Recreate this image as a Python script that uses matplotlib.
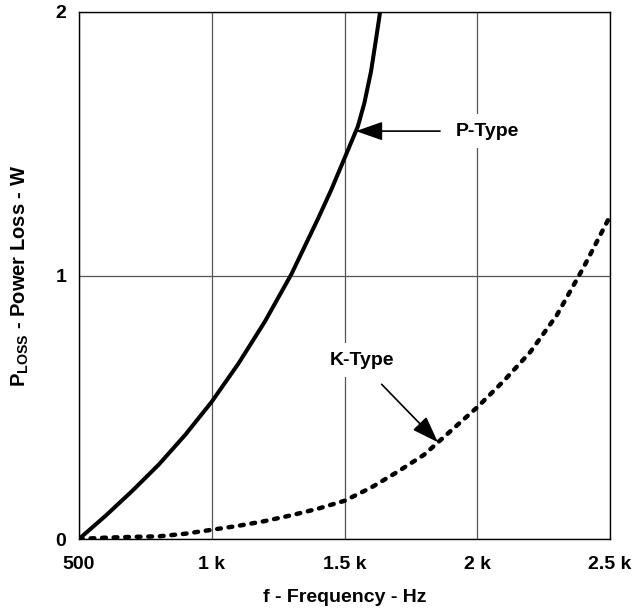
import numpy as np
import matplotlib
matplotlib.use("Agg")
import matplotlib.pyplot as plt

plt.rcParams['font.family'] = ['Liberation Sans', 'DejaVu Sans']
plt.rcParams['font.weight'] = 'bold'
plt.rcParams['mathtext.default'] = 'regular'

# values
freq_p = [500, 600, 700, 800, 900, 1000, 1100, 1200, 1300, 1400, 1450, 1500,
          1550, 1575, 1600, 1620, 1634]
loss_p = [0, 0.088, 0.182, 0.282, 0.395, 0.521, 0.665, 0.825, 1.005, 1.215, 1.325, 1.445,
          1.565, 1.655, 1.775, 1.905, 2.0]

freq_k = [500, 600, 700, 800, 900, 1000, 1100, 1200, 1300, 1400, 1500, 1600,
          1700, 1800, 1900, 2000, 2100, 2200, 2300, 2400, 2500]
loss_k = [0, 0.005, 0.008, 0.01, 0.02, 0.035, 0.05, 0.068, 0.09, 0.115, 0.145, 0.195,
          0.255, 0.32, 0.41, 0.50, 0.60, 0.71, 0.85, 1.03, 1.225]

x_ticks = [500, 1000, 1500, 2000, 2500]
x_labels = ['500', '1 k', '1.5 k', '2 k', '2.5 k']
y_ticks = [0, 1, 2]
y_labels = ['0', '1', '2']

fig = plt.figure(figsize=(6.33, 6.12), dpi=100)
ax = fig.add_axes([79 / 633, 1 - 539 / 612, 531 / 633, 527 / 612])

ax.plot(freq_p, loss_p, color='black', lw=2.9, solid_capstyle='round',
        solid_joinstyle='round', zorder=3)
ax.plot(freq_k, loss_k, color='black', lw=3.2, linestyle=(0, (0.85, 1.75)),
        dash_capstyle='round', zorder=3)

ax.set_xlim(500, 2500)
ax.set_ylim(0, 2)
ax.set_xticks(x_ticks)
ax.set_xticklabels(x_labels)
ax.set_yticks(y_ticks)
ax.set_yticklabels(y_labels)
ax.tick_params(length=0, labelsize=14)
ax.tick_params(axis='x', pad=12)
ax.tick_params(axis='y', pad=9)
ax.grid(True, color='#555555', lw=0.9)
for s in ax.spines.values():
    s.set_linewidth(1.0)

ax.set_xlabel('f - Frequency - Hz', fontsize=14, fontweight='bold', labelpad=12)
ax.set_ylabel(r'P$_{\mathregular{LOSS}}$ - Power Loss - W', fontsize=14.5,
              fontweight='bold', labelpad=18)

box = dict(facecolor='white', edgecolor='none', pad=6)
ax.text(2040, 1.548, 'P-Type', fontsize=14, fontweight='bold', ha='center',
        va='center', bbox=box, zorder=4)
ax.text(1566, 0.679, 'K-Type', fontsize=14, fontweight='bold', ha='center',
        va='center', bbox=box, zorder=4)

head = '-|>,head_length=1.65,head_width=0.58'
ax.annotate('', xy=(1543, 1.548), xytext=(1860, 1.548),
            arrowprops=dict(arrowstyle=head, mutation_scale=10, color='black',
                            lw=1.2, shrinkA=0, shrinkB=0), zorder=5)
ax.annotate('', xy=(1852, 0.367), xytext=(1640, 0.587),
            arrowprops=dict(arrowstyle=head, mutation_scale=10, color='black',
                            lw=1.2, shrinkA=0, shrinkB=0), zorder=5)

fig.savefig('out.png', dpi=100)
